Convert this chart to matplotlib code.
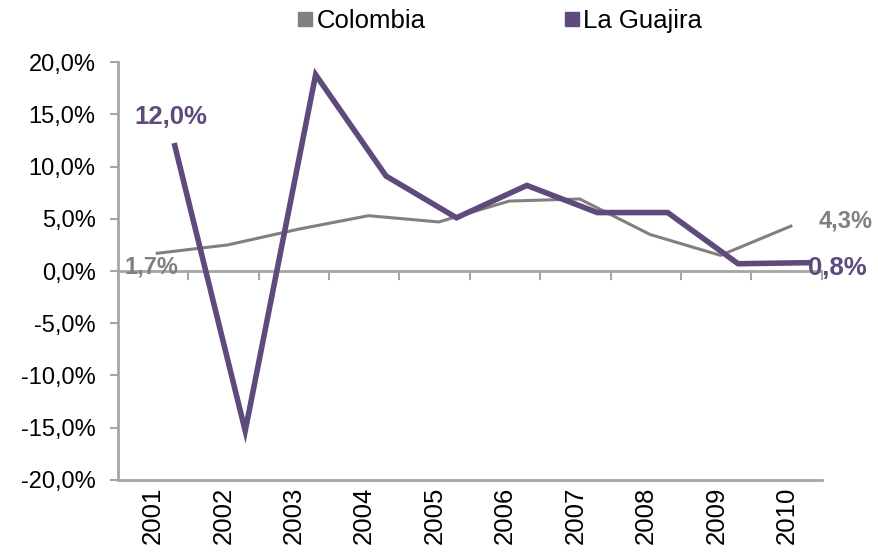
import matplotlib.pyplot as plt
import numpy as np

years = ["2001", "2002", "2003", "2004", "2005", "2006", "2007", "2008", "2009", "2010"]
colombia = [1.7, 2.5, 4.0, 5.3, 4.7, 6.7, 6.9, 3.5, 1.5, 4.3]
guajira = [12.0, -15.3, 18.8, 9.1, 5.1, 8.2, 5.6, 5.6, 0.7, 0.8]

GRAY = "#808080"
PURPLE = "#5e4a7c"
AXIS = "#a6a6a6"
FS = 18.5

plt.rcParams["font.family"] = ["Liberation Sans", "DejaVu Sans"]

fig = plt.figure(figsize=(8.79, 5.6), dpi=100)
ax = fig.add_axes([0.134, 0.143, 0.801, 0.746])

x = np.arange(len(years))
# the original chart draws the series slightly to the right of the category centres
ax.plot(x + 0.06, colombia, color=GRAY, lw=2.2, solid_joinstyle="round", zorder=3)
ax.plot(x + 0.31, guajira, color=PURPLE, lw=4, solid_joinstyle="miter", zorder=4)

ax.set_xlim(-0.5, len(years) - 0.5)
ax.set_ylim(-20, 20)
ax.set_yticks(np.arange(-20, 21, 5))
ax.set_yticklabels([f"{v:.1f}%".replace(".", ",") for v in np.arange(-20, 21, 5)])
ax.set_xticks(x)
ax.set_xticklabels(years, rotation=90)
ax.tick_params(axis="x", length=0, pad=5, labelsize=FS)
ax.tick_params(axis="y", length=6, width=1.5, color=AXIS, pad=10, labelsize=17)

for s in ["top", "right"]:
    ax.spines[s].set_visible(False)
ax.spines["left"].set_color(AXIS)
ax.spines["left"].set_linewidth(2)
ax.spines["bottom"].set_color(AXIS)
ax.spines["bottom"].set_linewidth(2)

# category axis line at zero with boundary ticks
ax.axhline(0, color=AXIS, lw=2, zorder=2)
for b in np.arange(-0.5, len(years), 1.0):
    ax.plot([b, b], [0, -0.8], color=AXIS, lw=1.5, zorder=2, clip_on=False)

# data labels
ax.annotate("12,0%", (0.31, guajira[0]), xytext=(-3, 21), textcoords="offset points",
            ha="center", va="center", color=PURPLE, fontsize=FS, fontweight="bold")
ax.annotate("1,7%", (0.06, colombia[0]), xytext=(-4, -10), textcoords="offset points",
            ha="center", va="center", color=GRAY, fontsize=17, fontweight="bold")
ax.annotate("4,3%", (9.06, colombia[-1]), xytext=(20, 4), textcoords="offset points",
            ha="left", va="center", color=GRAY, fontsize=17, fontweight="bold", annotation_clip=False)
ax.annotate("0,8%", (9.31, guajira[-1]), xytext=(0, -4), textcoords="offset points",
            ha="left", va="center", color=PURPLE, fontsize=FS, fontweight="bold", annotation_clip=False)

# legend
h1 = plt.Line2D([], [], marker="s", ls="none", color=GRAY, markersize=10)
h2 = plt.Line2D([], [], marker="s", ls="none", color=PURPLE, markersize=10)
fig.legend([h1, h2], ["Colombia", "La Guajira"], loc="upper center",
           bbox_to_anchor=(0.567, 1.025), ncol=2, frameon=False, fontsize=FS,
           handletextpad=0.05, columnspacing=5.3, handlelength=0.8)

fig.savefig("out.png", dpi=100, facecolor="white")
